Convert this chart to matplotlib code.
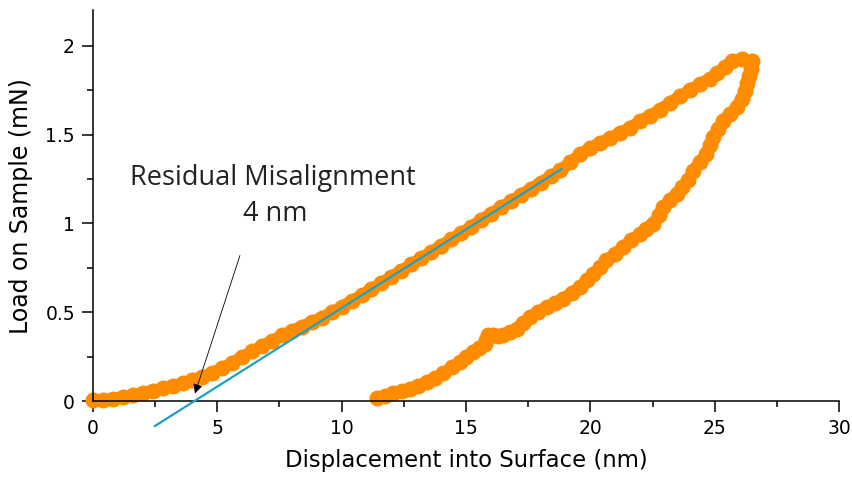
import numpy as np
import matplotlib
matplotlib.use("Agg")
import matplotlib.pyplot as plt

# loading segment (nm, mN)
load_x = [0.0, 0.4, 0.8, 1.2, 1.6, 2.0, 2.4, 2.8, 3.2, 3.6, 4.0, 4.4, 4.8, 5.2,
          5.6, 6.0, 6.4, 6.8, 7.2, 7.6, 8.0, 8.4, 8.8, 9.2, 9.6, 10.0, 10.4,
          10.8, 11.2, 11.6, 12.0, 12.4, 12.8, 13.2, 13.6, 14.0, 14.4, 14.8,
          15.2, 15.6, 16.0, 16.4, 16.8, 17.2, 17.6, 18.0, 18.4, 18.8, 19.2,
          19.6, 20.0, 20.4, 20.8, 21.2, 21.6, 22.0, 22.4, 22.8, 23.2, 23.6,
          24.0, 24.4, 24.8, 25.1, 25.4, 25.7, 26.1, 26.5]
load_y = [0.005, 0.007, 0.012, 0.025, 0.032, 0.048, 0.058, 0.072, 0.085, 0.10,
          0.118, 0.138, 0.16, 0.185, 0.215, 0.25, 0.28, 0.31, 0.34, 0.37,
          0.395, 0.42, 0.445, 0.47, 0.50, 0.53, 0.565, 0.595, 0.63, 0.665,
          0.70, 0.735, 0.77, 0.805, 0.84, 0.875, 0.91, 0.945, 0.98, 1.02,
          1.055, 1.09, 1.125, 1.16, 1.195, 1.23, 1.265, 1.30, 1.345, 1.39,
          1.425, 1.455, 1.48, 1.51, 1.54, 1.575, 1.607, 1.64, 1.68, 1.715,
          1.75, 1.785, 1.815, 1.845, 1.88, 1.915, 1.925, 1.912]

# unloading segment
unload_x = [26.45, 26.38, 26.3, 26.22, 26.08, 25.88, 25.6, 25.34, 25.15, 24.94,
            24.8, 24.67, 24.4, 24.14, 23.94, 23.7, 23.47, 23.2, 22.93, 22.75,
            22.53, 22.25, 22.0, 21.65, 21.32, 21.0, 20.65, 20.4, 20.12, 19.85,
            19.58, 19.25, 18.91, 18.58, 18.24, 17.9, 17.57, 17.3, 17.04, 16.78,
            16.5, 16.3, 16.1, 15.9, 15.8, 15.76, 15.52, 15.29, 15.02, 14.76,
            14.42, 14.09, 13.75, 13.42, 13.08, 12.75, 12.42, 12.08, 11.75, 11.41]
unload_y = [1.87, 1.83, 1.79, 1.747, 1.70, 1.653, 1.615, 1.579, 1.53, 1.485,
            1.44, 1.39, 1.345, 1.298, 1.242, 1.205, 1.167, 1.13, 1.092, 1.045,
            0.998, 0.97, 0.942, 0.905, 0.867, 0.83, 0.792, 0.755, 0.717, 0.68,
            0.642, 0.61, 0.577, 0.553, 0.53, 0.502, 0.474, 0.44, 0.408, 0.39,
            0.371, 0.368, 0.371, 0.37, 0.345, 0.324, 0.30, 0.277, 0.25, 0.221,
            0.19, 0.156, 0.13, 0.108, 0.088, 0.071, 0.056, 0.043, 0.028, 0.015]

# linear fit to the loading curve
fit_x = [2.49, 18.85]
fit_y = [-0.14, 1.307]

orange = "#ff8c00"
teal = "#1ba1c6"

fig = plt.figure(figsize=(8.53, 4.88), dpi=100)
ax = fig.add_axes([0.109, 0.178, 0.8746, 0.801])

for xs, ys in [(load_x, load_y), (unload_x, unload_y)]:
    ax.plot(xs, ys, "-", color=orange, lw=8.5, solid_capstyle="round",
            clip_on=False, zorder=2)
    ax.plot(xs, ys, "o", color=orange, ms=11.5, mec="none", clip_on=False, zorder=2)
ax.plot(fit_x, fit_y, color=teal, lw=1.6, clip_on=False, zorder=3)

ax.set_xlim(0, 30)
ax.set_ylim(0, 2.2)
ax.set_xticks([0, 5, 10, 15, 20, 25, 30])
ax.set_xticks(np.arange(2.5, 30, 5), minor=True)
ax.set_yticks([0, 0.5, 1, 1.5, 2])
ax.set_yticklabels(["0", "0.5", "1", "1.5", "2"])
ax.set_yticks([0.25, 0.75, 1.25, 1.75], minor=True)
ax.set_xticklabels([str(v) for v in range(0, 31, 5)])

for s in ["top", "right"]:
    ax.spines[s].set_visible(False)
for s in ["left", "bottom"]:
    ax.spines[s].set_linewidth(1.1)
ax.tick_params(which="major", direction="out", length=8, width=1.1, labelsize=13.5,
               pad=5)
ax.tick_params(which="minor", direction="out", length=4.5, width=1.1)

ax.set_xlabel("Displacement into Surface (nm)", fontsize=16.4, labelpad=8)
ax.set_ylabel("Load on Sample (mN)", fontsize=17, labelpad=9)

ax.text(7.22, 1.258, "Residual Misalignment", ha="center", va="center",
        fontsize=19.5, family="Open Sans", color="#222222")
ax.text(7.32, 1.056, "4 nm", ha="center", va="center",
        fontsize=19.5, family="Open Sans", color="#222222")
ax.annotate("", xy=(4.10, 0.043), xytext=(5.91, 0.82),
            arrowprops=dict(arrowstyle="-|>", lw=0.6, color="black",
                            mutation_scale=14, shrinkA=0, shrinkB=0))

fig.savefig("out.png", dpi=100)
